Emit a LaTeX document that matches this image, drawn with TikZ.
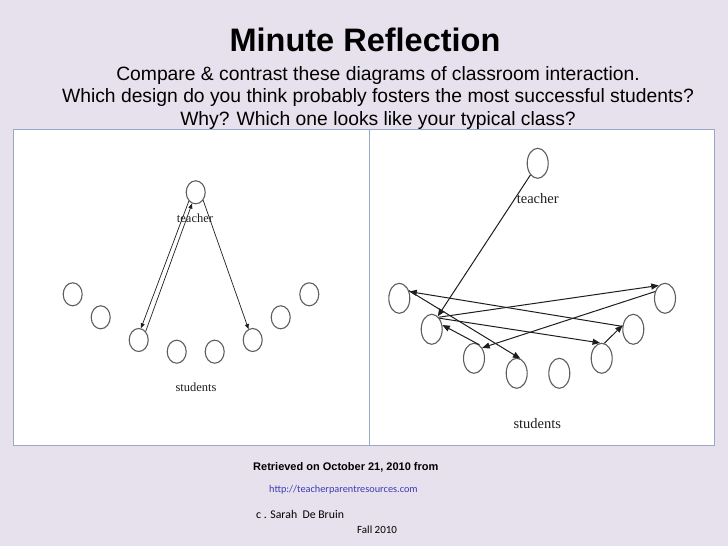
\documentclass[tikz,border=0pt]{standalone}
\usepackage{fontspec}
\setmainfont{Liberation Sans}
\newfontfamily\panelfont{Liberation Serif}
\newfontfamily\notefont{Carlito}
\usepackage{xcolor}
\usepackage{tikz}
\usetikzlibrary{arrows.meta,shapes.geometric}
\definecolor{MRLavender}{HTML}{E6E1EC}
\definecolor{MRFrame}{HTML}{9AA8C8}
\definecolor{MRCircle}{HTML}{5E5E5E}
\definecolor{MRInk}{HTML}{1E1E1E}
\definecolor{MRLink}{HTML}{3B3BB5}
\tikzset{
  >={Triangle[length=5pt,width=4pt]},
  mrpupil/.style={ellipse, draw=MRCircle, line width=1.1pt, inner sep=0pt,
    minimum width=19pt, minimum height=23pt},
  mrpupilwide/.style={mrpupil, minimum width=21pt, minimum height=30pt},
  mrarrow/.style={->, line width=0.7pt, draw=MRInk},
  mrarrowwide/.style={-{Triangle[length=7.5pt,width=6pt]}, line width=1pt, draw=MRInk},
  mrcaption/.style={font=\panelfont\fontsize{12.5}{14}\selectfont, text=MRInk, inner sep=0pt},
  mrcaptionwide/.style={mrcaption, font=\panelfont\fontsize{14.5}{16}\selectfont},
  mrtitle/.style={font=\bfseries\fontsize{32.5}{36}\selectfont, inner sep=0pt},
  mrquestion/.style={font=\fontsize{19.3}{22.5}\selectfont, align=center, inner sep=0pt},
  mrsource/.style={font=\bfseries\fontsize{11}{13}\selectfont, inner sep=0pt, anchor=west},
  mrlink/.style={font=\notefont\fontsize{10.3}{12}\selectfont, text=MRLink, inner sep=0pt, anchor=west},
  mrnote/.style={font=\notefont\fontsize{11}{13}\selectfont, inner sep=0pt, anchor=west}
}
\begin{document}
\begin{tikzpicture}[x=1pt, y=-1pt]
  \fill[MRLavender] (0,0) rectangle (728,546);
  \useasboundingbox (0,0) rectangle (728,546);

  \node[mrtitle] (title) at (365,40) {Minute Reflection};
  \node[mrquestion] (question) at (378,98)
    {Compare \& contrast these diagrams of classroom interaction.\\
     Which design do you think probably fosters the most successful students?\\
     Why? Which one looks like your typical class?};

  \draw[MRFrame, fill=white, line width=1pt] (13,129) rectangle (714,445);
  \draw[MRFrame, line width=1pt] (369,129) -- (369,445);

  % teacher-centred class
  \node[mrpupil] (lt) at (195.7,192.3) {};
  \node[mrcaption] (ltlabel) at (195,218) {teacher};
  \node[mrpupil] (ls1) at (72.7,294.3) {};
  \node[mrpupil] (ls2) at (100.7,317.3) {};
  \node[mrpupil] (ls3) at (138.7,340) {};
  \node[mrpupil] (ls4) at (176.7,351.7) {};
  \node[mrpupil] (ls5) at (214.7,351.7) {};
  \node[mrpupil] (ls6) at (252.7,340) {};
  \node[mrpupil] (ls7) at (280.7,317.3) {};
  \node[mrpupil] (ls8) at (309.3,294.3) {};
  \node[mrcaption] (lslabel) at (196,387.7) {students};

  \draw[mrarrow] (lt.232) -- (ls3.79);
  \draw[mrarrow] (ls3.51) -- (lt.252);
  \draw[mrarrow] (lt.313) -- (ls6.111);

  % student-centred class
  \node[mrpupilwide] (rt) at (537.7,163.3) {};
  \node[mrcaptionwide] (rtlabel) at (537.7,198.3) {teacher};
  \node[mrpupilwide] (rs1) at (399.3,298.3) {};
  \node[mrpupilwide] (rs2) at (431.7,329.3) {};
  \node[mrpupilwide] (rs3) at (474,358.3) {};
  \node[mrpupilwide] (rs4) at (516.7,373.3) {};
  \node[mrpupilwide] (rs5) at (559.3,373.3) {};
  \node[mrpupilwide] (rs6) at (601.7,358.3) {};
  \node[mrpupilwide] (rs7) at (633.3,329.3) {};
  \node[mrpupilwide] (rs8) at (665,298.3) {};
  \node[mrcaptionwide] (rslabel) at (537.3,424) {students};

  \draw[mrarrowwide] (rt.238) -- (rs2.65);
  \draw[mrarrowwide] (rs2.60) -- (rs8.116);
  \draw[mrarrowwide] (rs8.146) -- (rs3.52);
  \draw[mrarrowwide] (rs2.55) -- (rs6.96);
  \draw[mrarrowwide] (rs6.80) -- (rs7.159);
  \draw[mrarrowwide] (rs7.165) -- (rs1.34);
  \draw[mrarrowwide] (rs1.39) -- (rs4.76);
  \draw[mrarrowwide] (rs3.68) -- (rs2.22);

  \node[mrsource] (source) at (253,467) {Retrieved on October 21, 2010 from};
  \node[mrlink] (link) at (269,490) {http://teacherparentresources.com};
  \node[mrnote, font=\notefont\fontsize{11.8}{13}\selectfont] (credit) at (256,514) {c . Sarah\ \ De Bruin};
  \node[mrnote] (term) at (357,530) {Fall 2010};
\end{tikzpicture}
\end{document}
